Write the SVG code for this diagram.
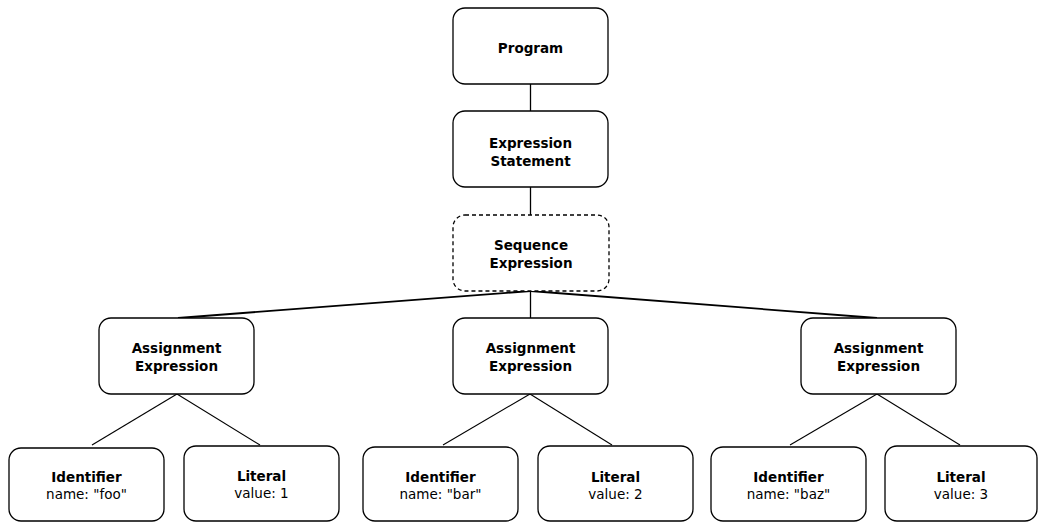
<svg xmlns="http://www.w3.org/2000/svg" width="1038" height="522" viewBox="0 0 1038 522">
<style>
.box{fill:#fff;stroke:#000;stroke-width:1.3}
.dash{stroke-dasharray:4 3}
.t{font-family:"DejaVu Sans",Verdana,sans-serif;font-size:13.5px;fill:#000;text-anchor:middle}
.b{font-weight:bold}
.c{stroke:#000;fill:none}
</style>
<rect width="1038" height="522" fill="#fff"/>
<g id="connectors">
<line class="c" stroke-width="1.3" x1="530.5" y1="84" x2="530.5" y2="111"/>
<line class="c" stroke-width="1.3" x1="530.5" y1="187" x2="530.5" y2="215"/>
<line class="c" stroke-width="1.8" x1="530.5" y1="291" x2="178" y2="318"/>
<line class="c" stroke-width="1.3" x1="530.5" y1="291" x2="530.5" y2="318"/>
<line class="c" stroke-width="1.8" x1="530.5" y1="291" x2="877" y2="318"/>
<line class="c" stroke-width="1.1" x1="177" y1="394" x2="92" y2="445"/>
<line class="c" stroke-width="1.1" x1="177" y1="394" x2="260" y2="445"/>
<line class="c" stroke-width="1.1" x1="530" y1="394" x2="443" y2="445"/>
<line class="c" stroke-width="1.1" x1="530" y1="394" x2="612" y2="445"/>
<line class="c" stroke-width="1.1" x1="877" y1="394" x2="790" y2="445"/>
<line class="c" stroke-width="1.1" x1="877" y1="394" x2="960" y2="445"/>
</g>
<g id="program">
<rect class="box" x="453" y="8" width="155" height="76" rx="12"/>
<text class="t b" x="530.5" y="53">Program</text>
</g>
<g id="expression-statement">
<rect class="box" x="453" y="111" width="155" height="76" rx="12"/>
<text class="t b" x="530.5" y="147.5">Expression</text>
<text class="t b" x="530.5" y="165.5">Statement</text>
</g>
<g id="sequence-expression">
<rect class="box dash" x="453" y="215" width="156" height="76" rx="12"/>
<text class="t b" x="531" y="250">Sequence</text>
<text class="t b" x="531" y="268">Expression</text>
</g>
<g id="assign1">
<rect class="box" x="99" y="318" width="155" height="76" rx="12"/>
<text class="t b" x="176.5" y="353">Assignment</text>
<text class="t b" x="176.5" y="371">Expression</text>
</g>
<g id="assign2">
<rect class="box" x="453" y="318" width="155" height="76" rx="12"/>
<text class="t b" x="530.5" y="353">Assignment</text>
<text class="t b" x="530.5" y="371">Expression</text>
</g>
<g id="assign3">
<rect class="box" x="801" y="318" width="155" height="76" rx="12"/>
<text class="t b" x="878.5" y="353">Assignment</text>
<text class="t b" x="878.5" y="371">Expression</text>
</g>
<g id="identifier-foo">
<rect class="box" x="9" y="448" width="155" height="73" rx="12"/>
<text class="t b" x="86.5" y="482">Identifier</text>
<text class="t" x="86.5" y="499">name: "foo"</text>
</g>
<g id="literal-1">
<rect class="box" x="184" y="446" width="155" height="75" rx="12"/>
<text class="t b" x="261.5" y="481">Literal</text>
<text class="t" x="261.5" y="498">value: 1</text>
</g>
<g id="identifier-bar">
<rect class="box" x="363" y="447" width="155" height="74" rx="12"/>
<text class="t b" x="440.5" y="481.5">Identifier</text>
<text class="t" x="440.5" y="498.5">name: "bar"</text>
</g>
<g id="literal-2">
<rect class="box" x="538" y="446" width="155" height="75" rx="12"/>
<text class="t b" x="615.5" y="481.5">Literal</text>
<text class="t" x="615.5" y="498.5">value: 2</text>
</g>
<g id="identifier-baz">
<rect class="box" x="711" y="447" width="155" height="74" rx="12"/>
<text class="t b" x="788.5" y="481.5">Identifier</text>
<text class="t" x="788.5" y="498.5">name: "baz"</text>
</g>
<g id="literal-3">
<rect class="box" x="885" y="446" width="152" height="75" rx="12"/>
<text class="t b" x="961" y="481.5">Literal</text>
<text class="t" x="961" y="498.5">value: 3</text>
</g>
</svg>
